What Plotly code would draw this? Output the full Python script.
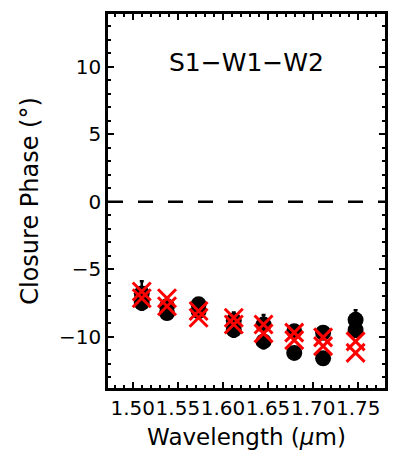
import plotly.graph_objects as go

wavelength = [1.510, 1.538, 1.573, 1.612, 1.645, 1.679, 1.711, 1.747]
obs_a = [-6.8, -7.75, -7.6, -8.8, -9.1, -9.6, -9.7, -8.75]
obs_b = [-7.5, -8.25, -8.1, -9.5, -10.35, -11.2, -11.6, -9.5]
err_a = [0.9, 0.4, 0.3, 0.6, 0.7, 0.4, 0.4, 0.7]
err_b = [0.5, 0.4, 0.3, 0.5, 0.5, 0.4, 0.4, 0.5]
model_a = [-6.65, -7.15, -8.1, -8.6, -9.1, -9.7, -10.05, -10.35]
model_b = [-7.15, -7.75, -8.6, -9.1, -9.75, -10.25, -10.7, -11.2]
title_text = "S1\u2212W1\u2212W2"

FONT = "DejaVu Sans"
fig = go.Figure()

fig.add_hline(y=0, line=dict(color="black", width=2.5, dash="15px,15px"))

for obs, err in [(obs_a, err_a), (obs_b, err_b)]:
    fig.add_trace(go.Scatter(
        x=wavelength, y=obs, mode="markers",
        marker=dict(symbol="circle", size=16, color="black"),
        error_y=dict(type="data", array=err, color="black", thickness=2.5, width=2),
        showlegend=False))

for mod in [model_a, model_b]:
    fig.add_trace(go.Scatter(
        x=wavelength, y=mod, mode="markers",
        marker=dict(symbol="x-thin-open", size=18, color="red",
                    line=dict(color="red", width=3)),
        showlegend=False))

fig.add_annotation(x=0.5, y=0.870, xref="paper", yref="paper", yanchor="middle",
                   text=title_text, showarrow=False,
                   font=dict(family=FONT, size=25, color="black"))

axis_common = dict(showline=True, linecolor="black", linewidth=2.5, mirror="allticks",
                   ticks="inside", ticklen=6, tickwidth=2, tickcolor="black",
                   showgrid=False, zeroline=False,
                   tickfont=dict(family=FONT, size=20, color="black"))

fig.update_xaxes(range=[1.4726, 1.7796], tickmode="array",
                 tickvals=[1.50, 1.55, 1.60, 1.65, 1.70, 1.75],
                 ticktext=["1.50", "1.55", "1.60", "1.65", "1.70", "1.75"],
                 tickangle=0,
                 minor=dict(ticks="inside", dtick=0.01, tick0=1.5, ticklen=3,
                            tickwidth=1.5, tickcolor="black"),
                 title=dict(text="Wavelength (<i>\u03bc</i>m)", standoff=11,
                            font=dict(family=FONT, size=23, color="black")),
                 **axis_common)
fig.update_yaxes(range=[-13.8, 13.9], tickmode="array",
                 tickvals=[-10, -5, 0, 5, 10],
                 ticktext=["\u221210", "\u22125", "0", "5", "10"],
                 minor=dict(ticks="inside", dtick=1, tick0=0, ticklen=3,
                            tickwidth=1.5, tickcolor="black"),
                 title=dict(text="Closure Phase (\u00b0)", standoff=14,
                            font=dict(family=FONT, size=24, color="black")),
                 **axis_common)

fig.update_layout(width=394, height=462,
                  margin=dict(l=108, r=6, t=14, b=74),
                  paper_bgcolor="white", plot_bgcolor="white",
                  showlegend=False)

fig.write_html("out.html")
